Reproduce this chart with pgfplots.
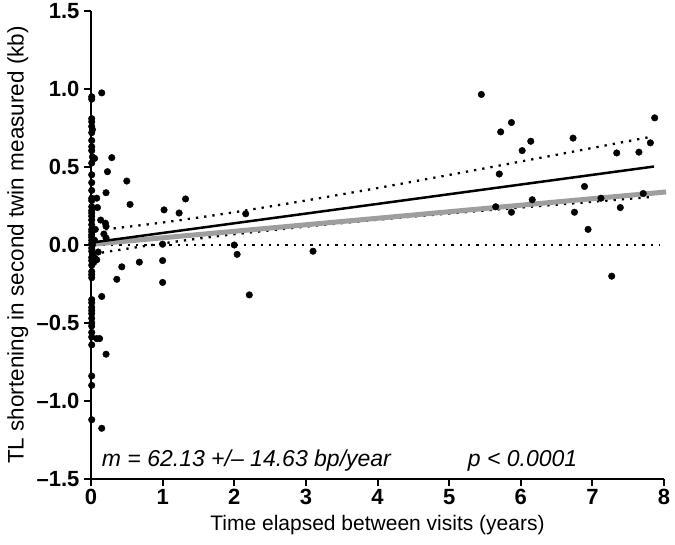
\documentclass[border=0pt]{standalone}
\usepackage{fontspec}
\setmainfont{Liberation Sans}
\usepackage{pgfplots}
\pgfplotsset{compat=1.18}
\definecolor{fitgrey}{gray}{0.62}
\begin{document}
\begin{tikzpicture}
\begin{axis}[
  at={(91pt,66pt)}, anchor=south west,
  scale only axis, width=573pt, height=468pt,
  xmin=0, xmax=8, ymin=-1.5, ymax=1.5,
  axis lines*=left, axis line style={line width=2pt},
  clip=false,
  xtick={0,1,2,3,4,5,6,7,8},
  xticklabels={0,1,2,3,4,5,6,7,8},
  ytick={-1.5,-1,-0.5,0,0.5,1,1.5},
  yticklabels={{--1.5},{--1.0},{--0.5},0.0,0.5,1.0,1.5},
  tick align=outside, major tick length=7pt,
  tick style={line width=2pt, black},
  tick label style={font=\bfseries\fontsize{22}{22}\selectfont},
  yticklabel style={xshift=-1pt},
]
% scatter
\addplot[only marks, mark=*, mark size=3.3pt, black] coordinates {
(0.01,0.95) (0.01,0.935) (0.01,0.81) (0.01,0.79) (0.01,0.76) (0.02,0.74) (0.01,0.72)
(0.01,0.67) (0.01,0.63) (0.01,0.605) (0.02,0.565) (0.01,0.525) (0.01,0.45) (0.01,0.40)
(0.01,0.35) (0.01,0.30) (0.01,0.285) (0.01,0.245) (0.01,0.22) (0.01,0.205) (0.01,0.185)
(0.01,0.16) (0.01,0.13) (0.01,0.10) (0.01,0.085) (0.01,0.065) (0.01,0.05) (0.01,0.03)
(0.01,0.01) (0.02,0.0) (0.01,-0.02) (0.01,-0.04) (0.02,-0.06) (0.01,-0.08) (0.01,-0.10)
(0.02,-0.12) (0.01,-0.13) (0.01,-0.17) (0.01,-0.19) (0.01,-0.21) (0.01,-0.35) (0.01,-0.37)
(0.01,-0.40) (0.01,-0.42) (0.01,-0.44) (0.01,-0.47) (0.01,-0.50) (0.01,-0.52) (0.01,-0.56)
(0.01,-0.59) (0.01,-0.64) (0.01,-0.84) (0.01,-0.90) (0.01,-1.12)
(0.15,0.975) (0.05,0.555) (0.29,0.56) (0.23,0.47) (0.50,0.41) (0.21,0.335) (0.08,0.30)
(0.545,0.26) (0.09,0.24) (0.135,0.16) (0.20,0.14) (0.21,0.12) (0.18,0.07) (0.21,0.045)
(0.06,0.10) (0.05,0.03) (0.10,-0.045) (0.056,-0.085) (0.08,-0.095) (0.04,-0.11)
(0.43,-0.14) (0.675,-0.11) (0.36,-0.22) (0.15,-0.33) (0.08,-0.60) (0.12,-0.60)
(0.21,-0.70) (0.15,-1.175)
(1.02,0.225) (1.23,0.205) (1.32,0.295) (2.16,0.20) (1.00,0.005) (1.00,-0.10) (1.00,-0.24)
(2.00,0.0) (2.04,-0.06) (2.21,-0.32) (3.10,-0.04)
(5.45,0.965) (5.72,0.725) (5.87,0.785) (6.14,0.665) (6.02,0.605) (6.73,0.685) (7.34,0.59)
(7.65,0.595) (7.81,0.655) (7.87,0.815) (5.70,0.455) (6.89,0.375) (5.65,0.245) (5.87,0.21)
(6.16,0.29) (6.75,0.21) (7.12,0.30) (7.39,0.24) (7.71,0.33) (6.94,0.10) (7.27,-0.20)
};
% zero line
\addplot[black, line width=2.3pt, dash pattern=on 2.3pt off 6pt] coordinates {(0.05,0) (7.95,0)};
% CI band
\addplot[black, line width=2.3pt, dash pattern=on 2.3pt off 6pt, smooth] coordinates {
(0.2,0.100) (0.5,0.116) (1,0.144) (1.5,0.176) (2,0.210) (3,0.285) (4,0.365) (5,0.449) (6,0.535) (7,0.622) (7.8,0.692)};
\addplot[black, line width=2.3pt, dash pattern=on 2.3pt off 6pt, smooth] coordinates {
(0.15,-0.049) (0.5,-0.024) (1,0.010) (1.5,0.041) (2,0.069) (3,0.118) (4,0.162) (5,0.202) (6,0.240) (7,0.277) (7.8,0.307)};
% grey fit
\addplot[fitgrey, line width=5pt] coordinates {(0.02,0.005) (8.03,0.34)};
% black fit
\addplot[black, line width=2.5pt] coordinates {(0.0,0.015) (7.86,0.503)};
% annotations
\node[anchor=base west, font=\itshape\fontsize{23}{23}\selectfont, inner sep=0pt] at (axis cs:0.15,-1.417) {m = 62.13 +/-- 14.63 bp/year};
\node[anchor=base west, font=\itshape\fontsize{23}{23}\selectfont, inner sep=0pt] at (axis cs:5.26,-1.417) {p < 0.0001};
% axis labels
\node[anchor=base, font=\fontsize{21}{21}\selectfont, inner sep=0pt] at (axis cs:4,-1.827) {Time elapsed between visits (years)};
\node[anchor=base, rotate=90, font=\fontsize{22.5}{22.5}\selectfont, inner sep=0pt] at (axis cs:-0.94,0) {TL shortening in second twin measured (kb)};
\end{axis}
\pgfresetboundingbox
\path[use as bounding box] (0,0) rectangle (675pt,545pt);
\end{tikzpicture}
\end{document}
